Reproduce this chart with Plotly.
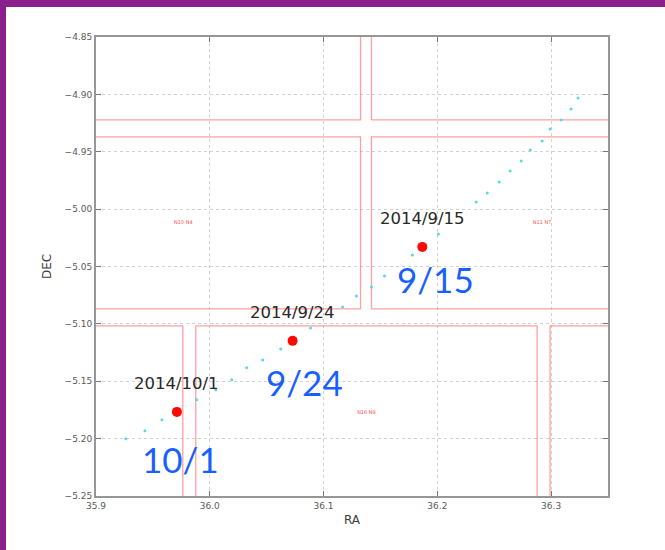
import plotly.graph_objects as go

# ---- data ----
track_ra = [35.9263, 35.9430, 35.9579, 35.9886, 36.0053, 36.0193, 36.0325, 36.0465,
            36.0623, 36.0886, 36.1167, 36.1289, 36.1421, 36.1535, 36.1781, 36.2009,
            36.2342, 36.2439, 36.2544, 36.2640, 36.2737, 36.2816, 36.2921, 36.2991,
            36.3088, 36.3175, 36.3237]
track_dec = [-5.2002, -5.1932, -5.1836, -5.1662, -5.1575, -5.1488, -5.1383, -5.1314,
             -5.1218, -5.1035, -5.0852, -5.0756, -5.0678, -5.0582, -5.0399, -5.0216,
             -4.9937, -4.9859, -4.9763, -4.9667, -4.9580, -4.9484, -4.9406, -4.9301,
             -4.9223, -4.9127, -4.9031]

obs_ra = [35.9711, 36.0728, 36.1868]
obs_dec = [-5.1767, -5.1148, -5.0329]
obs_dates = ["2014/10/1", "2014/9/24", "2014/9/15"]
obs_short = ["10/1", "9/24", "9/15"]
short_ra = [35.9746, 36.0833, 36.1982]
short_dec = [-5.2176, -5.1505, -5.0608]

chip_ra_min = [35.80, 36.1421, 35.80, 36.1421, 35.66, 35.9877, 36.2991]
chip_ra_max = [36.1325, 36.45, 36.1325, 36.45, 35.9763, 36.2877, 36.60]
chip_dec_min = [-4.9223, -4.9223, -5.0869, -5.0869, -5.2525, -5.2525, -5.2525]
chip_dec_max = [-4.80, -4.80, -4.9371, -4.9371, -5.1017, -5.1017, -5.1017]
chip_names = ["N10 N4", "N11 N7", "N16 N9"]
chip_label_ra = [35.9767, 36.2921, 36.1377]
chip_label_dec = [-5.0120, -5.0120, -5.1771]

x_ticks = [35.9, 36.0, 36.1, 36.2, 36.3]
y_ticks = [-4.85, -4.90, -4.95, -5.00, -5.05, -5.10, -5.15, -5.20, -5.25]

fig = go.Figure()

# chip outlines
cx, cy = [], []
for a, b, c, d in zip(chip_ra_min, chip_ra_max, chip_dec_min, chip_dec_max):
    cx += [a, b, b, a, a, None]
    cy += [c, c, d, d, c, None]
fig.add_trace(go.Scatter(x=cx, y=cy, mode="lines",
                         line=dict(color="rgba(255,120,120,0.7)", width=1.3),
                         hoverinfo="skip", showlegend=False))

# chip labels
fig.add_trace(go.Scatter(x=chip_label_ra, y=chip_label_dec, mode="text", text=chip_names,
                         textfont=dict(size=5, color="rgb(255,80,80)", family="DejaVu Sans"),
                         showlegend=False, hoverinfo="skip"))

# predicted track
fig.add_trace(go.Scatter(x=track_ra, y=track_dec, mode="markers",
                         marker=dict(size=3, color="rgb(90,215,225)"),
                         showlegend=False))

# observations
fig.add_trace(go.Scatter(x=obs_ra, y=obs_dec, mode="markers",
                         marker=dict(size=10, color="rgb(255,10,0)"),
                         showlegend=False))

for r, d, t in zip(obs_ra, obs_dec, obs_dates):
    fig.add_annotation(x=r, y=d, text=t, showarrow=False, yshift=28,
                       font=dict(size=16.5, color="rgb(40,40,40)", family="DejaVu Sans"))

for r, d, t in zip(short_ra, short_dec, obs_short):
    fig.add_annotation(x=r, y=d, text=t, showarrow=False,
                       font=dict(size=35, color="rgb(25,95,255)", family="Lato"))

axis_common = dict(showline=True, linecolor="rgb(150,150,150)", linewidth=2, mirror="allticks",
                   ticks="inside", ticklen=5, tickcolor="rgb(120,120,120)",
                   showgrid=True, gridcolor="rgb(210,210,210)", griddash="dot", gridwidth=1,
                   zeroline=False,
                   tickfont=dict(size=9, color="rgb(90,90,90)", family="DejaVu Sans"))

fig.update_xaxes(range=[35.9, 36.35], tickvals=x_ticks, tickformat=".1f",
                 title=dict(text="RA", font=dict(size=12, color="rgb(60,60,60)", family="DejaVu Sans"),
                            standoff=6),
                 **axis_common)
fig.update_yaxes(range=[-5.25, -4.85], tickvals=y_ticks, tickformat=".2f",
                 title=dict(text="DEC", font=dict(size=12, color="rgb(60,60,60)", family="DejaVu Sans"),
                            standoff=10),
                 **axis_common)

W, H = 665, 550
ml, mr, mt, mb = 96, 57, 37, 54
pw, ph = W - ml - mr, H - mt - mb
purple = "rgb(140,30,140)"
fig.add_shape(type="rect", xref="paper", yref="paper",
              x0=-ml / pw, x1=(-ml + 6) / pw, y0=-mb / ph, y1=1 + mt / ph,
              fillcolor=purple, line=dict(width=0), layer="above")
fig.add_shape(type="rect", xref="paper", yref="paper",
              x0=-ml / pw, x1=1 + mr / pw, y0=1 + (mt - 7) / ph, y1=1 + mt / ph,
              fillcolor=purple, line=dict(width=0), layer="above")

fig.update_layout(width=W, height=H, margin=dict(l=ml, r=mr, t=mt, b=mb),
                  paper_bgcolor="white", plot_bgcolor="white")

fig.write_html("out.html", config={"displayModeBar": False},
               post_script="document.body.style.margin='0';document.body.style.padding='0';")
